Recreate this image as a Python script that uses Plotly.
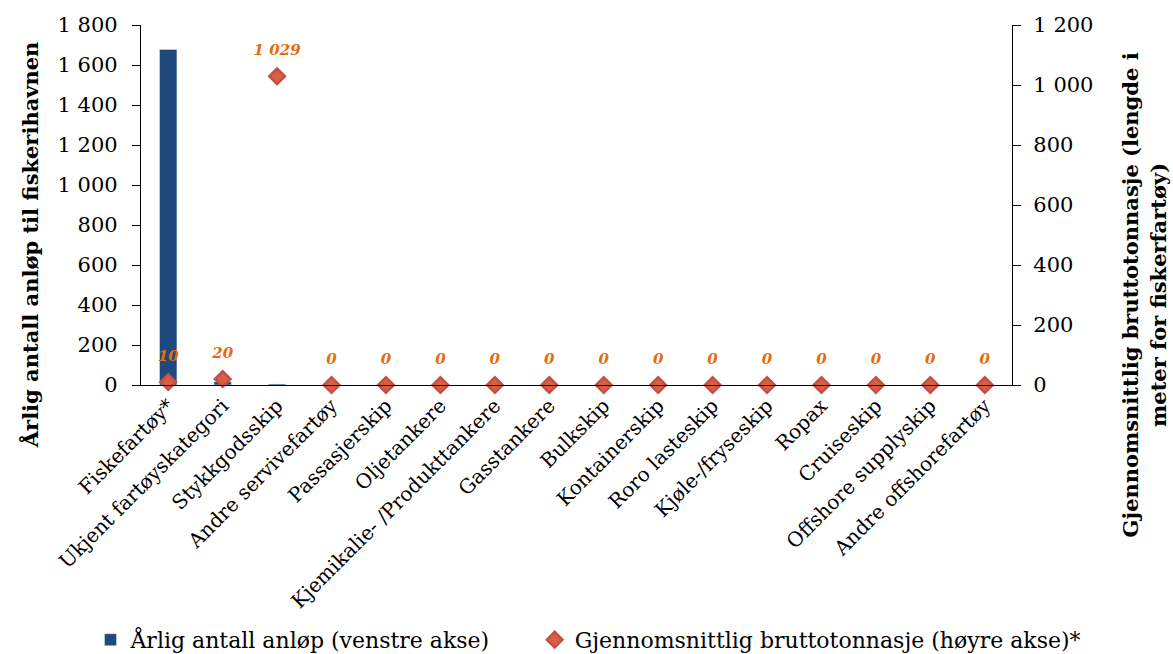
import plotly.graph_objects as go

categories = ["Fiskefartøy*", "Ukjent fartøyskategori", "Stykkgodsskip", "Andre servivefartøy",
              "Passasjerskip", "Oljetankere", "Kjemikalie- /Produkttankere", "Gasstankere",
              "Bulkskip", "Kontainerskip", "Roro lasteskip", "Kjøle-/fryseskip", "Ropax",
              "Cruiseskip", "Offshore supplyskip", "Andre offshorefartøy"]
anlop = [1678, 16, 5, 3, 3, 0, 0, 0, 0, 0, 0, 0, 0, 0, 0, 0]
tonnasje = [10, 20, 1029, 0, 0, 0, 0, 0, 0, 0, 0, 0, 0, 0, 0, 0]

FONT = "DejaVu Serif"

fig = go.Figure()
fig.add_trace(go.Bar(
    x=categories, y=anlop, name="Årlig antall anløp (venstre akse)",
    marker=dict(color="#1F497D"), width=0.32, yaxis="y", legend="legend"))
fig.add_trace(go.Scatter(
    x=categories, y=tonnasje, name="Gjennomsnittlig bruttotonnasje (høyre akse)*",
    mode="markers", yaxis="y2", legend="legend2",
    marker=dict(symbol="diamond", size=12, color="#D8603C", line=dict(color="#C0504D", width=2.5)),
    cliponaxis=False))
fig.add_trace(go.Scatter(
    x=categories, y=tonnasje, mode="text+markers", yaxis="y2", showlegend=False,
    marker=dict(size=26, opacity=0),
    texttemplate="%{y:,d}", textposition="top center",
    textfont=dict(family=FONT, size=15, color="#E46C0A", weight="bold", style="italic"),
    hoverinfo="skip", cliponaxis=False))

legend_common = dict(orientation="h", xanchor="left", y=-0.708, yanchor="middle",
                     font=dict(family=FONT, size=22), itemwidth=30, tracegroupgap=0,
                     bgcolor="rgba(0,0,0,0)")

fig.update_layout(
    width=1173, height=654,
    margin=dict(l=141, r=161, t=25, b=269, autoexpand=False),
    paper_bgcolor="white", plot_bgcolor="white",
    separators=", ",
    font=dict(family=FONT, size=21, color="black"),
    showlegend=True,
    legend=dict(x=-0.058, **legend_common),
    legend2=dict(x=0.452, **legend_common),
    xaxis=dict(type="category", tickangle=-45, showline=True, linecolor="black", linewidth=1.3,
               ticks="", tickfont=dict(family=FONT, size=20), showgrid=False,
               range=[-0.5, 15.5], automargin=False),
    yaxis=dict(range=[0, 1800], dtick=200, tickformat=",d", showline=True, linecolor="black",
               linewidth=1.3, ticks="outside", ticklen=8, tickcolor="black", showgrid=False,
               zeroline=False, tickfont=dict(family=FONT, size=21), ticklabelstandoff=10,
               automargin=False),
    yaxis2=dict(range=[0, 1200], dtick=200, tickformat=",d", overlaying="y", side="right",
                showline=True, linecolor="black", linewidth=1.3, ticks="outside", ticklen=8,
                tickcolor="black", showgrid=False, zeroline=False,
                tickfont=dict(family=FONT, size=21), ticklabelstandoff=8, automargin=False),
)

fig.add_annotation(text="<b>Årlig antall anløp til fiskerihavnen</b>", xref="paper", yref="paper",
                   x=-0.126, y=0.389, textangle=-90, showarrow=False,
                   font=dict(family=FONT, size=21), xanchor="center", yanchor="middle")
fig.add_annotation(text="<b>Gjennomsnittlig bruttotonnasje (lengde i<br>meter for fiskerfartøy)</b>",
                   xref="paper", yref="paper", x=1.152, y=0.25, textangle=-90, showarrow=False,
                   font=dict(family=FONT, size=21), xanchor="center", yanchor="middle")

fig.write_html("out.html")
